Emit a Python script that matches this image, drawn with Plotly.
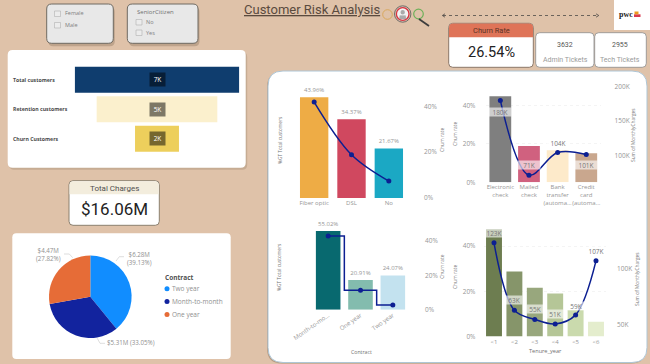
import plotly.graph_objects as go

W, H = 650, 364

# ---------- data ----------
funnel_labels = ["Total customers", "Retention customers", "Churn Customers"]
funnel_values = [7043, 5163, 1880]
funnel_text = ["7K", "5K", "2K"]
funnel_colors = ["#0f3d6e", "#fbf0cd", "#edcf5c"]

internet_cats = ["Fiber optic", "DSL", "No"]
internet_share = [43.96, 34.37, 21.67]
internet_churn = [41.9, 18.9, 7.4]
internet_colors = ["#eeac45", "#d0485f", "#1ba8c4"]

pay_cats = ["Electronic<br>check", "Mailed<br>check", "Bank<br>transfer<br>(automa...", "Credit<br>card<br>(automa..."]
pay_churn = [44.8, 18.9, 16.7, 15.2]
pay_charges = [180, 71, 104, 101]
pay_colors = ["#7f7f7f", "#d0617f", "#fdeaca", "#c9a78e"]

contract_cats = ["Month-to-mo...", "One year", "Two year"]
contract_share = [55.02, 20.91, 24.07]
contract_churn = [42.7, 11.3, 2.8]
contract_colors = ["#08696f", "#83bcae", "#c3e2ef"]

tenure_cats = ["<1", "<2", "<3", "<4", "<5", "<6"]
tenure_churn = [47.4, 28.7, 21.6, 19.0, 11.7, 6.5]
tenure_charges = [123, 63, 55, 51, 59, 107]
tenure_colors = ["#6d7d50", "#86956a", "#98a77d", "#b5c697", "#cadaad", "#e4edcd"]

pie_labels = ["Two year", "Month-to-month", "One year"]
pie_values = [6.28, 5.31, 4.47]
pie_colors = ["#118dff", "#12239e", "#e66c37"]

# ---------- pixel helpers ----------
BG = "#dfc2a9"
GRAY = "#969696"
TITLE = "#707070"
NAVY = "#0c1f92"
SANS = "Open Sans"
DIN = "Roboto"
px = lambda x: x / W
py = lambda y: 1 - y / H
shapes, notes = [], []


def rr_path(x0, y0, x1, y1, r, tl=True, tr=True, br=True, bl=True):
    a, b = lambda x: px(x), lambda y: py(y)
    rtl, rtr, rbr, rbl = [r if c else 0 for c in (tl, tr, br, bl)]
    return (f"M {a(x0+rtl)} {b(y0)} L {a(x1-rtr)} {b(y0)} Q {a(x1)} {b(y0)} {a(x1)} {b(y0+rtr)} "
            f"L {a(x1)} {b(y1-rbr)} Q {a(x1)} {b(y1)} {a(x1-rbr)} {b(y1)} "
            f"L {a(x0+rbl)} {b(y1)} Q {a(x0)} {b(y1)} {a(x0)} {b(y1-rbl)} "
            f"L {a(x0)} {b(y0+rtl)} Q {a(x0)} {b(y0)} {a(x0+rtl)} {b(y0)} Z")


def card(x0, y0, x1, y1, r=4, fill="white", line=None, lw=1, shadow=None, **corners):
    if shadow:
        shapes.append(dict(type="path", xref="paper", yref="paper", layer="below",
                           path=rr_path(x0 + shadow[0], y0 + shadow[1], x1 + shadow[0], y1 + shadow[1], r),
                           fillcolor=shadow[2], line=dict(width=0)))
    shapes.append(dict(type="path", xref="paper", yref="paper", layer="below",
                       path=rr_path(x0, y0, x1, y1, r, **corners), fillcolor=fill,
                       line=dict(color=line or fill, width=lw if line else 0)))


def seg(points, color, width=0.7, dash=None, layer="above", fill=None):
    p = "M " + " L ".join(f"{px(x)} {py(y)}" for x, y in points)
    if fill:
        p += " Z"
    shapes.append(dict(type="path", xref="paper", yref="paper", layer=layer, path=p,
                       fillcolor=fill, line=dict(color=color, width=width, dash=dash or "solid")))


def circle(cx, cy, r, fill=None, line=None, lw=1, layer="above"):
    shapes.append(dict(type="circle", xref="paper", yref="paper", layer=layer,
                       x0=px(cx - r), x1=px(cx + r), y0=py(cy + r), y1=py(cy - r),
                       fillcolor=fill or "rgba(0,0,0,0)", line=dict(color=line or fill, width=lw if line else 0)))


def T(x, y, text, size=7, color="#666", anchor="center", angle=0, family=SANS):
    notes.append(dict(xref="paper", yref="paper", x=px(x), y=py(y), text=text, showarrow=False,
                      xanchor=anchor, yanchor="middle", textangle=angle, borderpad=0,
                      font=dict(size=size, color=color, family=family)))


def band(xa, ya, cat, val, text, dy, width):
    notes.append(dict(xref=xa, yref=ya, x=cat, y=val, yshift=dy, text=text, showarrow=False,
                      width=width, height=8, borderpad=0, align="center",
                      bgcolor="rgba(255,255,255,0.62)", font=dict(size=6.5, color="#777", family=SANS)))


# ---------- cards and decoration ----------
# slicers
for (x0, x1) in [(46.7, 113.3), (127.3, 198)]:
    card(x0, 4, x1, 43.3, r=5, fill="#e8e8e8", line="#6f6a62", lw=1, shadow=(1.5, 3, "rgba(90,70,50,0.25)"))
for bx, by in [(54.5, 11), (54.5, 22.5), (136, 19.5), (136, 30)]:
    shapes.append(dict(type="rect", xref="paper", yref="paper", x0=px(bx), x1=px(bx + 6), y0=py(by + 5.5), y1=py(by),
                       fillcolor="#ececec", line=dict(color="#b0b0b0", width=0.6)))
T(64.3, 13.5, "Female", 5.5, "#808080", "left")
T(64.3, 25, "Male", 5.5, "#808080", "left")
T(135.7, 11.5, "SeniorCitizen", 6, "#707070", "left")
T(145, 22, "No", 5.5, "#808080", "left")
T(145, 32.7, "Yes", 5.5, "#808080", "left")

# funnel card
card(7.7, 50, 245.7, 167.7, r=5, shadow=(1.5, 2, "rgba(90,70,50,0.18)"))
for lab, yy in zip(funnel_labels, [79.5, 109.3, 138.7]):
    T(12.3, yy, f"<b>{lab}</b>", 5.2, "#4a4a4a", "left")

# title and icon
T(243, 9.5, "<u>Customer Risk Analysis</u>", 13, "#5a4a3e", "left", family="Roboto")
circle(387.5, 14.5, 4.8, None, "#d9a85c", 1)
circle(418.5, 14, 4.8, None, "#6fb05a", 1.2)
seg([(419, 19), (429, 26)], "#3d3d3d", 1.8)
circle(402.7, 14, 8.2, "#d6c4b4", "#555", 0.8)
circle(402.7, 14, 6.3, "#f2f2f2", "#d9333f", 1.3)
circle(402.7, 12.3, 2.2, "#aaaaaa")
seg([(399.2, 19), (399.8, 15.6), (405.6, 15.6), (406.2, 19)], "#aaaaaa", 0.2, fill="#aaaaaa")

# dotted arrow
seg([(443, 15.5), (598, 15.5)], "#3a3a3a", 0.7, dash="dot")
seg([(445, 13.8), (442.3, 15.5), (445, 17.2)], "#3a3a3a", 0.7)
seg([(596, 13.8), (598.8, 15.5), (596, 17.2)], "#3a3a3a", 0.7)

# logo
shapes.append(dict(type="rect", xref="paper", yref="paper", x0=px(614), x1=px(650), y0=py(30), y1=py(0),
                   fillcolor="white", line=dict(width=0), layer="below"))
T(617.5, 15, "<b>pwc</b>", 8, "#222", "left", family="Liberation Serif")
shapes.append(dict(type="rect", xref="paper", yref="paper", x0=px(634), x1=px(640.5), y0=py(17), y1=py(14.3),
                   fillcolor="#d9394e", line=dict(width=0)))
shapes.append(dict(type="rect", xref="paper", yref="paper", x0=px(634.5), x1=px(638.5), y0=py(14.3), y1=py(11.5),
                   fillcolor="#ec9a1e", line=dict(width=0)))

# KPI cards
card(448.7, 23.3, 533.3, 67.3, r=4, fill="white", line="#8b7768", lw=1)
card(449, 23.6, 533, 37.3, r=4, fill="#df7458", br=False, bl=False)
T(491, 30.5, "Churn Rate", 7.5, "#5a3326", family=DIN)
T(491, 52.3, "26.54%", 14.5, "#222", family=DIN)
card(535.7, 32.7, 594, 67.3, r=4, line="#8c8c8c", lw=0.8)
card(594.7, 32.7, 646.3, 67.3, r=4, line="#8c8c8c", lw=0.8)
T(565, 44.7, "3632", 7, "#555", family=DIN)
T(565, 60, "Admin Tickets", 7, "#9a9a9a", family=DIN)
T(620.3, 44.7, "2955", 7, "#555", family=DIN)
T(620.3, 60, "Tech Tickets", 7, "#9a9a9a", family=DIN)

# total charges
card(69, 180.7, 159.3, 225.3, r=4, fill="white", line="#8b806f", lw=1)
card(69.5, 181.2, 158.8, 194.3, r=4, fill="#f3eddd", br=False, bl=False)
T(114.3, 188, "Total Charges", 8, "#505050", family=DIN)
T(114.3, 209.5, "$16.06M", 17, "#222", family=DIN)

# pie card
card(12.3, 233.3, 230.7, 359, r=4)
T(125.7, 258.7, "$6.28M<br>(39.13%)", 6.2, "#909090", "left")
T(62.3, 254.5, "$4.47M<br>(27.82%)", 6.2, "#909090", "right")
T(106.3, 342.7, "$5.31M (33.05%)", 6.2, "#909090", "left")
seg([(116, 261), (119.3, 256.7), (124, 256.7)], "#c8c8c8", 0.6)
seg([(72.7, 257.7), (69.3, 254), (64, 254)], "#c8c8c8", 0.6)
seg([(97.3, 338.3), (100, 343.3), (105, 343.3)], "#c8c8c8", 0.6)
T(164, 277.7, "<b>Contract</b>", 6.5, "#505050", "left")
for lab, col, yy in zip(pie_labels, pie_colors, [288.7, 301.5, 314.5]):
    circle(167, yy, 2.5, col)
    T(171, yy, lab, 6.5, "#909090", "left")

# main panel
card(268, 71, 647, 362.5, r=15, fill="white", line="#aec6d6", lw=1, shadow=(-1, 1, "rgba(90,70,50,0.3)"))

# ---------- axes ----------
layout_axes = {}


def xax(name, anchor, x0, x1, **kw):
    ax = dict(domain=[px(x0), px(x1)], anchor=anchor, showgrid=False, zeroline=False, showline=False,
              ticks="", tickfont=dict(size=6, color=GRAY, family=SANS), automargin=False, tickangle=0)
    ax.update(kw)
    layout_axes[name] = ax


def yax(name, y_bottom, y_top, rng, **kw):
    ax = dict(domain=[py(y_bottom), py(y_top)], range=rng, zeroline=False, showline=False,
              showgrid=False, ticks="", tickfont=dict(size=6.5, color=GRAY, family=SANS), automargin=False)
    ax.update(kw)
    layout_axes[name] = ax


GRID = dict(showgrid=True, gridcolor="#f4f4f4", griddash="dot", gridwidth=0.6)

# chart 1
xax("xaxis", "y", 295.5, 407.5)
yax("yaxis", 198, 92, [0, 46.3], showticklabels=False)
yax("yaxis2", 198, 92, [0, 46.3], overlaying="y", side="right", anchor="free", position=px(423),
    dtick=20, ticksuffix="%")
# chart 2
xax("xaxis2", "y3", 486, 600.6)
yax("yaxis3", 182.3, 86, [0, 50.2], anchor="free", position=px(475.5), side="left", dtick=20, ticksuffix="%", **GRID)
yax("yaxis4", 182.3, 86, [60.6, 201], overlaying="y3", side="right", anchor="free", position=px(613.5),
    dtick=50, tick0=0, ticksuffix="K")
# chart 3
xax("xaxis3", "y5", 312, 409, tickangle=-35)
yax("yaxis5", 309.8, 227, [0, 57.9], showticklabels=False)
yax("yaxis6", 309.8, 227, [0, 47.9], overlaying="y5", side="right", anchor="free", position=px(424),
    dtick=20, ticksuffix="%")
# chart 4
xax("xaxis4", "y7", 483.8, 606.2)
yax("yaxis7", 336.5, 225, [0, 49.3], anchor="free", position=px(475.5), side="left", dtick=20, ticksuffix="%", **GRID)
yax("yaxis8", 336.5, 225, [39.8, 138.8], overlaying="y7", side="right", anchor="free", position=px(616),
    dtick=50, tick0=0, ticksuffix="K")
# funnel
layout_axes["xaxis5"] = dict(domain=[px(74.7), px(239.3)], anchor="y9", range=[-3521.5, 3521.5], visible=False)
layout_axes["yaxis9"] = dict(domain=[py(153.4), py(64.9)], anchor="x5", range=[2.5, -0.5], visible=False,
                             type="category", categoryorder="array", categoryarray=funnel_labels)

# axis titles
T(280, 140, "%GT Total customers", 4.8, TITLE, angle=-90)
T(442, 140, "Churn rate", 4.8, TITLE, angle=-90)
T(455, 134, "Churn rate", 4.8, TITLE, angle=-90)
T(633, 135, "Sum of MonthlyCharges", 4.8, TITLE, angle=-90)
T(279, 267, "%GT Total customers", 4.8, TITLE, angle=-90)
T(441.7, 267, "Churn rate", 4.8, TITLE, angle=-90)
T(361, 352, "Contract", 5.2, TITLE)
T(455, 277, "Churn rate", 4.8, TITLE, angle=-90)
T(637, 279, "Sum of MonthlyCharges", 4.8, TITLE, angle=-90)
T(545, 351, "Tenure_year", 5.6, TITLE)

# ---------- traces ----------
fig = go.Figure()


def bars(cats, vals, colors, xa, ya, text=None, width=0.76):
    fig.add_trace(go.Bar(x=cats, y=vals, marker=dict(color=colors, line=dict(width=0)), width=width, xaxis=xa, yaxis=ya,
                         text=text, textposition="outside" if text else None, cliponaxis=False,
                         textfont=dict(size=6, color=GRAY, family=SANS), showlegend=False))


def line(cats, vals, xa, ya, shape="spline"):
    fig.add_trace(go.Scatter(x=cats, y=vals, mode="lines+markers", xaxis=xa, yaxis=ya, cliponaxis=False,
                             line=dict(color=NAVY, width=1.5, shape=shape, smoothing=1.0),
                             marker=dict(color=NAVY, size=5), showlegend=False))


bars(internet_cats, internet_share, internet_colors, "x", "y", [f"{v:.2f}%" for v in internet_share])
line(internet_cats, internet_churn, "x", "y2")
bars(pay_cats, pay_churn, pay_colors, "x2", "y3")
line(pay_cats, pay_charges, "x2", "y4")
bars(contract_cats, contract_share, contract_colors, "x3", "y5", [f"{v:.2f}%" for v in contract_share])
line(contract_cats, contract_churn, "x3", "y6", shape="hvh")
bars(tenure_cats, tenure_churn, tenure_colors, "x4", "y7", width=0.78)
line(tenure_cats, tenure_charges, "x4", "y8")

fig.add_trace(go.Funnel(y=funnel_labels, x=funnel_values, orientation="h", xaxis="x5", yaxis="y9", textinfo="none",
                        marker=dict(color=funnel_colors, line=dict(width=0)), connector=dict(visible=False),
                        showlegend=False))
fig.add_trace(go.Pie(labels=pie_labels, values=pie_values, sort=False, direction="clockwise", rotation=0,
                     textinfo="none", marker=dict(colors=pie_colors, line=dict(width=0)), showlegend=False,
                     domain=dict(x=[px(49), px(131.6)], y=[py(338), py(255.4)])))

# data labels
for lab, txt in zip(funnel_labels, funnel_text):
    notes.append(dict(xref="x5", yref="y9", x=0, y=lab, text=txt, showarrow=False, width=15, height=13, borderpad=0,
                      bgcolor="rgba(0,0,0,0.5)", font=dict(size=6.5, color="white", family=SANS)))
band("x2", "y4", pay_cats[0], pay_charges[0], "180K", -11.4, 22)
band("x2", "y4", pay_cats[1], pay_charges[1], "71K", 10, 22)
band("x2", "y4", pay_cats[2], pay_charges[2], "104K", 9.3, 22)
band("x2", "y4", pay_cats[3], pay_charges[3], "101K", -10.7, 22)
band("x4", "y8", tenure_cats[0], tenure_charges[0], "123K", 9.7, 16)
band("x4", "y8", tenure_cats[1], tenure_charges[1], "63K", 10, 16)
band("x4", "y8", tenure_cats[2], tenure_charges[2], "55K", 10, 16)
band("x4", "y8", tenure_cats[3], tenure_charges[3], "51K", 10, 16)
band("x4", "y8", tenure_cats[4], tenure_charges[4], "59K", 9.3, 16)
band("x4", "y8", tenure_cats[5], tenure_charges[5], "107K", 10, 16)

fig.update_layout(width=W, height=H, margin=dict(l=0, r=0, t=0, b=0, pad=0), paper_bgcolor=BG,
                  plot_bgcolor="rgba(0,0,0,0)", shapes=shapes, annotations=notes, funnelgap=0.12,
                  bargap=0.2, font=dict(family=SANS), **layout_axes)
fig.write_html("out.html", config=dict(displayModeBar=False),
               post_script="document.body.style.margin='0';document.body.style.overflow='hidden';")
